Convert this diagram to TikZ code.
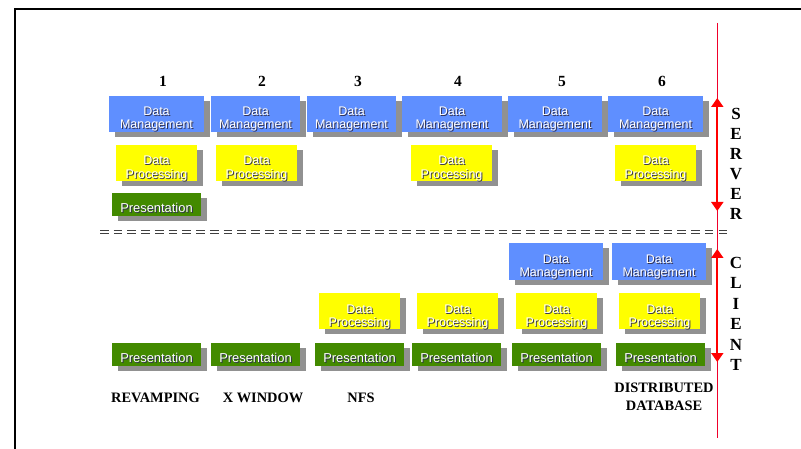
\documentclass[tikz,border=0pt]{standalone}
\usepackage{fontspec}
\setmainfont{Liberation Serif}
\newfontfamily\boxfont{Liberation Sans}
\usetikzlibrary{shadows,arrows.meta}
\definecolor{dmblue}{HTML}{5F8FFF}
\definecolor{dpyellow}{HTML}{FFFF00}
\definecolor{prgreen}{HTML}{438A00}
\definecolor{shgray}{HTML}{919191}
\definecolor{txtshadow}{HTML}{303050}
\definecolor{axisred}{HTML}{F0002A}
\newcommand{\shtxt}[1]{\makebox[0pt][l]{\hspace{1pt}\raisebox{-1pt}{\textcolor{txtshadow}{#1}}}\textcolor{white}{#1}}
\newcommand{\lineat}[2]{\makebox[0pt][c]{\raisebox{-#1pt}[0pt][0pt]{\shtxt{#2}}}}
\tikzset{
  tbox/.style={inner sep=0pt,outer sep=0pt,font=\boxfont\fontsize{12.5}{14}\selectfont,
    drop shadow={shadow xshift=6pt,shadow yshift=-5pt,fill=shgray,opacity=1}},
  dmbox/.style={tbox,fill=dmblue,minimum height=36pt},
  dpbox/.style={tbox,fill=dpyellow,minimum width=81pt,minimum height=36pt},
  prbox/.style={tbox,fill=prgreen,minimum width=89pt,minimum height=23pt,font=\boxfont\fontsize{12.9}{14}\selectfont},
  num/.style={font=\bfseries\fontsize{15.5}{16}\selectfont,inner sep=0pt,anchor=base},
  caption/.style={font=\bfseries\fontsize{14.4}{18.4}\selectfont,inner sep=0pt,align=center},
  sideletter/.style={font=\bfseries\fontsize{17}{18}\selectfont,inner sep=0pt,anchor=base},
  rangearrow/.style={color=red,line width=1.8pt,{Triangle[length=9pt,width=12pt]}-{Triangle[length=9pt,width=12pt]}},
  frameline/.style={draw=black,line width=2pt},
  seam/.style={draw=black!75,line width=1.2pt,double=white,double distance=1.3pt,dash pattern=on 8.7pt off 5.045pt}
}
\newcommand{\dmtxt}{\lineat{2}{Data}\lineat{15}{Management}}
\newcommand{\dptxt}{\lineat{2}{Data}\lineat{15.5}{Processing}}
\newcommand{\prtxt}{\lineat{8}{Presentation}}
\begin{document}
\begin{tikzpicture}[x=1pt,y=-1pt]
\useasboundingbox (0,0) rectangle (801,449);
% frame
\coordinate (fa) at (15,449); \coordinate (fb) at (15,9); \coordinate (fc) at (801,9);
\draw[frameline] (fa) -- (fb) -- (fc);
% numbers
\node[num] (n1) at (163,86.7) {1};
\node[num] (n2) at (262,86.7) {2};
\node[num] (n3) at (358,86.7) {3};
\node[num] (n4) at (458,86.7) {4};
\node[num] (n5) at (562,86.7) {5};
\node[num] (n6) at (662,86.7) {6};
% server
\node[dmbox,minimum width=95pt] (sdm1) at (156.5,114) {\dmtxt};
\node[dmbox,minimum width=89pt] (sdm2) at (255.5,114) {\dmtxt};
\node[dmbox,minimum width=89pt] (sdm3) at (351.5,114) {\dmtxt};
\node[dmbox,minimum width=100pt] (sdm4) at (452,114) {\dmtxt};
\node[dmbox,minimum width=94pt] (sdm5) at (555,114) {\dmtxt};
\node[dmbox,minimum width=95pt] (sdm6) at (655.5,114) {\dmtxt};
\node[dpbox] (sdp1) at (156.5,163) {\dptxt};
\node[dpbox] (sdp2) at (256.5,163) {\dptxt};
\node[dpbox] (sdp4) at (451.5,163) {\dptxt};
\node[dpbox] (sdp6) at (655.5,163) {\dptxt};
\node[prbox] (spr1) at (156.5,204.5) {\prtxt};
% client
\node[dmbox,minimum width=94pt,minimum height=37pt] (cdm5) at (556,261.5) {\dmtxt};
\node[dmbox,minimum width=94pt,minimum height=37pt] (cdm6) at (659,261.5) {\dmtxt};
\node[dpbox] (cdp3) at (359.5,311) {\dptxt};
\node[dpbox] (cdp4) at (457.5,311) {\dptxt};
\node[dpbox] (cdp5) at (556.5,311) {\dptxt};
\node[dpbox] (cdp6) at (659.5,311) {\dptxt};
\node[prbox] (cpr1) at (156.5,354.5) {\prtxt};
\node[prbox] (cpr2) at (255.5,354.5) {\prtxt};
\node[prbox] (cpr3) at (359.5,354.5) {\prtxt};
\node[prbox] (cpr4) at (456.5,354.5) {\prtxt};
\node[prbox] (cpr5) at (556.5,354.5) {\prtxt};
\node[prbox] (cpr6) at (660.5,354.5) {\prtxt};
% captions
\node[caption] (c1) at (155.5,398) {REVAMPING};
\node[caption] (c2) at (263,398) {X WINDOW};
\node[caption] (c3) at (361,398) {NFS};
\node[caption] (c6) at (664,397) {DISTRIBUTED\\DATABASE};
% seam
\coordinate (sa) at (100,232); \coordinate (sb) at (727.3,232);
\draw[seam] (sa) -- (sb);
% axis
\coordinate (ax1) at (717.3,23); \coordinate (ax2) at (717.3,438);
\draw[color=axisred,line width=1.2pt] (ax1) -- (ax2);
\coordinate (su) at (717.3,98); \coordinate (sd) at (717.3,211);
\coordinate (cu) at (717.3,249); \coordinate (cd) at (717.3,362);
\draw[rangearrow] (su) -- (sd);
\draw[rangearrow] (cu) -- (cd);
% side letters
\node[sideletter] (s1) at (736,120) {S};
\node[sideletter] (s2) at (736,140) {E};
\node[sideletter] (s3) at (736,160) {R};
\node[sideletter] (s4) at (736,180) {V};
\node[sideletter] (s5) at (736,200) {E};
\node[sideletter] (s6) at (736,220) {R};
\node[sideletter] (l1) at (736,269) {C};
\node[sideletter] (l2) at (736,289) {L};
\node[sideletter] (l3) at (736,309) {I};
\node[sideletter] (l4) at (736,329.5) {E};
\node[sideletter] (l5) at (736,350) {N};
\node[sideletter] (l6) at (736,370) {T};
\end{tikzpicture}
\end{document}
